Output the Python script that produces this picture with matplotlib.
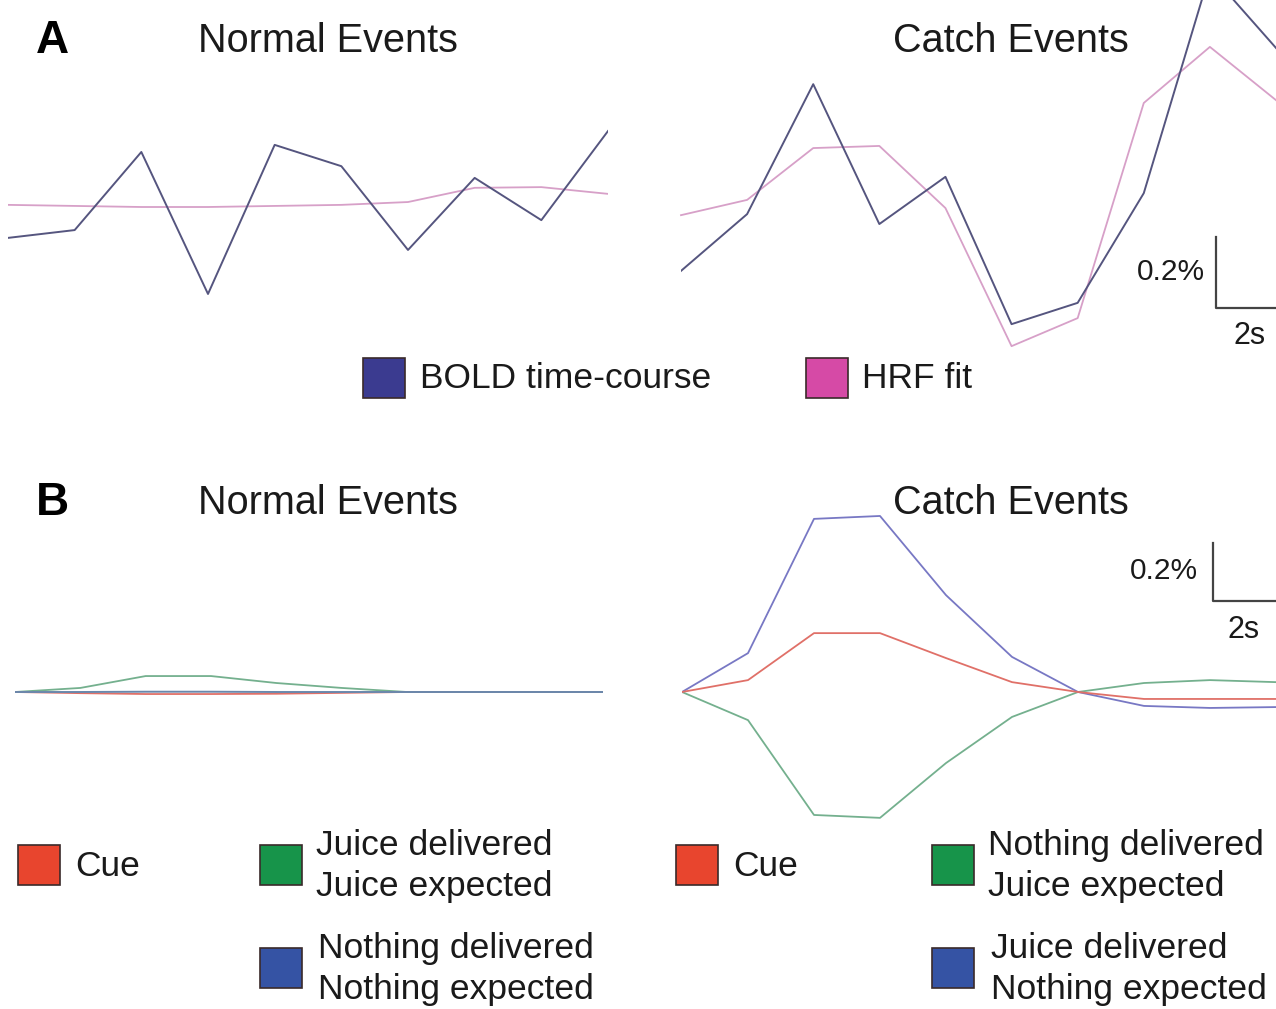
import numpy as np
import matplotlib
matplotlib.use("Agg")
import matplotlib.pyplot as plt
from matplotlib.patches import Rectangle

plt.rcParams['font.family'] = ['Liberation Sans', 'DejaVu Sans']

# -- Data ---------------------------------------------------------------
# sample times (s) and % signal change
t = [0, 2, 4, 6, 8, 10, 12, 14, 16, 18]

# Panel A: single voxel time-courses
a_normal_bold = [-0.087, -0.065, 0.155, -0.245, 0.175, 0.115, -0.121, 0.082, -0.037, 0.214]
a_normal_hrf = [0.006, 0.003, 0.0, 0.0, 0.003, 0.006, 0.014, 0.054, 0.056, 0.037]
a_catch_bold = [-0.180, -0.020, 0.346, -0.048, 0.085, -0.330, -0.270, 0.039, 0.659, 0.448]
a_catch_hrf = [-0.023, 0.020, 0.166, 0.172, -0.003, -0.392, -0.313, 0.293, 0.451, 0.301]

# Panel B: fitted responses per regressor
b_normal_cue = [0.0, -0.004, -0.007, -0.007, -0.006, -0.003, 0.0, 0.0, 0.0, 0.0]
b_normal_juice = [0.0, 0.014, 0.055, 0.055, 0.031, 0.014, 0.0, 0.0, 0.0, 0.0]
b_normal_nothing = [0.0, 0.0, 0.001, 0.001, 0.0, 0.0, 0.0, 0.0, 0.0, 0.0]
b_catch_cue = [0.0, 0.041, 0.203, 0.203, 0.117, 0.034, 0.0, -0.024, -0.024, -0.024]
b_catch_nothing = [0.0, -0.097, -0.424, -0.434, -0.245, -0.086, 0.0, 0.031, 0.041, 0.034]
b_catch_juice = [0.0, 0.134, 0.597, 0.607, 0.334, 0.121, 0.0, -0.048, -0.055, -0.052]

W, H = 1276, 1009
fig = plt.figure(figsize=(W / 100, H / 100), dpi=100)
fig.patch.set_facecolor('white')

TXT = '#1a1a1a'
BOLD_LINE = '#55557f'
HRF_LINE = '#d7a0c8'
RED_LINE = '#e07068'
GREEN_LINE = '#74b08e'
BLUE_LINE = '#7878c4'
BAR = '#444444'


def fx(x):
    return x / W


def fy(y):
    return 1 - y / H


def panel_axes(x0, x1, ytop, ybot, base, px_per_pct):
    # axes placed in pixel units, y data in % signal change
    ax = fig.add_axes([fx(x0), fy(ybot), (x1 - x0) / W, (ybot - ytop) / H])
    ax.set_xlim(t[0], t[-1])
    ax.set_ylim((base - ybot) / px_per_pct, (base - ytop) / px_per_pct)
    ax.axis('off')
    return ax


# -- Panel A ------------------------------------------------------------
ax = panel_axes(8, 608, 0, 360, 207, 355)
ax.plot(t, a_normal_hrf, color=HRF_LINE, lw=1.3)
ax.plot(t, a_normal_bold, color=BOLD_LINE, lw=1.4)

ax = panel_axes(681, 1276, 0, 360, 207, 355)
ax.plot(t, a_catch_hrf, color=HRF_LINE, lw=1.3, clip_on=False)
ax.plot(t, a_catch_bold, color=BOLD_LINE, lw=1.4)
# scale bar
ax.plot([16.18, 16.18, 18.3], [-0.085, -0.285, -0.285], color=BAR,
        lw=1.6, clip_on=False)
ax.text(15.85, -0.183, '0.2%', ha='right', va='center', fontsize=21.5,
        color=TXT)
ax.text(17.2, -0.363, '2s', ha='center', va='center', fontsize=22,
        color=TXT)

# -- Panel B ------------------------------------------------------------
ax = panel_axes(15, 603, 420, 820, 692, 290)
ax.plot(t, b_normal_juice, color=GREEN_LINE, lw=1.3)
ax.plot(t, b_normal_cue, color=RED_LINE, lw=1.3)
ax.plot(t, b_normal_nothing, color='#6a88ac', lw=1.4)

ax = panel_axes(682, 1276, 420, 820, 692, 290)
ax.plot(t, b_catch_nothing, color=GREEN_LINE, lw=1.3)
ax.plot(t, b_catch_juice, color=BLUE_LINE, lw=1.3)
ax.plot(t, b_catch_cue, color=RED_LINE, lw=1.3)
ax.plot([16.09, 16.09, 18.3], [0.514, 0.314, 0.314], color=BAR,
        lw=1.6, clip_on=False)
ax.text(15.64, 0.417, '0.2%', ha='right', va='center', fontsize=21.5,
        color=TXT)
ax.text(17.03, 0.214, '2s', ha='center', va='center', fontsize=22,
        color=TXT)

# -- Titles -------------------------------------------------------------
for y, letter in [(41, 'A'), (503, 'B')]:
    fig.text(fx(36), fy(y), letter, fontsize=33, fontweight='bold',
             va='center', ha='left', color='black')
    fig.text(fx(198), fy(y), 'Normal Events', fontsize=28.5, va='center',
             ha='left', color=TXT)
    fig.text(fx(893), fy(y), 'Catch Events', fontsize=28.5, va='center',
             ha='left', color=TXT)


# -- Legends ------------------------------------------------------------
def swatch(x, y, color, label, tx):
    fig.add_artist(Rectangle((fx(x), fy(y + 40)), 42 / W, 40 / H,
                             transform=fig.transFigure, facecolor=color,
                             edgecolor='#3a2a2a', lw=1.2))
    fig.text(fx(tx), fy(y + 21), label, fontsize=25.5, va='center',
             ha='left', color=TXT, linespacing=1.3)


swatch(363, 358, '#3b3b90', 'BOLD time-course', 420)
swatch(806, 358, '#d64aa6', 'HRF fit', 862)

swatch(18, 845, '#e8452e', 'Cue', 75)
swatch(260, 845, '#17944a', 'Juice delivered\nJuice expected', 316)
swatch(260, 948, '#3553a4', 'Nothing delivered\nNothing expected', 318)

swatch(676, 845, '#e8452e', 'Cue', 733)
swatch(932, 845, '#17944a', 'Nothing delivered\nJuice expected', 988)
swatch(932, 948, '#3553a4', 'Juice delivered\nNothing expected', 991)

fig.savefig('out.png', dpi=100, facecolor='white')
